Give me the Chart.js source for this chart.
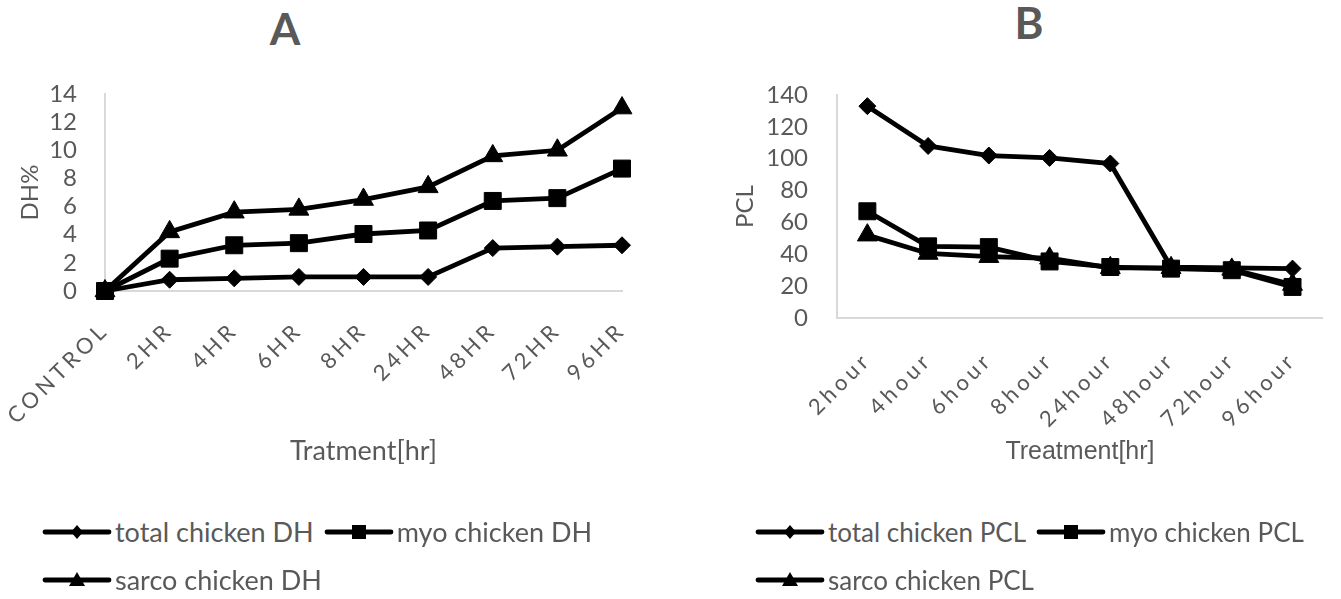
<!DOCTYPE html>
<html>
<head>
<meta charset="utf-8">
<script src="https://cdn.jsdelivr.net/npm/chart.js@4"></script>
<style>
  html, body { margin: 0; padding: 0; background: #fff; }
  body { width: 1341px; height: 599px; position: relative; overflow: hidden; font-family: Lato, "Open Sans", sans-serif; color: #595959; }
  .panel { position: absolute; top: 0; }
  .ttl { position: absolute; font: bold 44px Lato, sans-serif; color: #595959; line-height: 44px; transform: translate(-50%, -50%); }
  .legend { position: absolute; display: flex; flex-wrap: wrap; column-gap: 10px; row-gap: 18px; line-height: 30px; }
  .item { display: flex; align-items: center; height: 30px; white-space: nowrap; }
  .item canvas { margin-right: 3px; }
</style>
</head>
<body>
<div class="ttl" style="left:285px; top:28px;">A</div>
<div class="ttl" style="left:1029px; top:22px;">B</div>
<div class="panel" style="left:0px;"><canvas id="chartA" width="670" height="470"></canvas></div>
<div class="panel" style="left:700px;"><canvas id="chartB" width="641" height="470"></canvas></div>
<div class="legend" id="legendA" style="left:42px; top:517px; width:600px; font-size:27px;"></div>
<div class="legend" id="legendB" style="left:755px; top:517px; width:580px; font-size:26px;"></div>
<script>
// Degree of hydrolysis by treatment time
const categoriesDH = ['CONTROL', '2HR', '4HR', '6HR', '8HR', '24HR', '48HR', '72HR', '96HR'];
const totalDH = [0, 0.8, 0.9, 1.0, 1.0, 1.0, 3.05, 3.15, 3.25];
const myoDH   = [0, 2.3, 3.25, 3.4, 4.05, 4.3, 6.4, 6.6, 8.7];
const sarcoDH = [0, 4.2, 5.6, 5.8, 6.5, 7.4, 9.6, 10.0, 13.0];
const namesDH = ['total chicken DH', 'myo chicken DH', 'sarco chicken DH'];
const ticksDH = { max: 14, step: 2 };

// Peptide chain length by treatment time
const categoriesPCL = ['2hour', '4hour', '6hour', '8hour', '24hour', '48hour', '72hour', '96hour'];
const totalPCL = [133, 108, 102, 100.5, 97, 32, 31.5, 31];
const myoPCL   = [67, 45, 44.5, 35.5, 32, 31, 30, 19.5];
const sarcoPCL = [52, 40.5, 38.5, 37.5, 31.5, 31.5, 30.5, 21];
const namesPCL = ['total chicken PCL', 'myo chicken PCL', 'sarco chicken PCL'];
const ticksPCL = { max: 140, step: 20 };

const FONT = 'Lato, "Open Sans", sans-serif';
const GREY = '#595959';
const AXIS = '#d9d9d9';

// marker style per series: total = diamond, myo = square, sarco = triangle
const markers = [
  { style: 'rectRot', radius: 8.5, order: 1 },
  { style: 'rect', radius: 12, order: 0 },
  { style: 'triangle', radius: 11.5, order: 2 }
];

function series(label, data, m) {
  return {
    label, data,
    borderColor: '#000', backgroundColor: '#000', borderWidth: 4.8,
    pointStyle: m.style, pointRadius: m.radius, pointBorderWidth: 1,
    pointBackgroundColor: '#000', pointBorderColor: '#000',
    tension: 0, clip: false, order: m.order
  };
}

// spaced-out lettering for the category labels
const spacedCategoryLabels = {
  id: 'spacedCategoryLabels',
  beforeDraw(chart) {
    const s = chart.scales.x;
    if (s._spaced) return;
    const draw = s.drawLabels;
    s.drawLabels = function (area) {
      const ctx = this.ctx;
      ctx.save();
      ctx.letterSpacing = '4px';
      draw.call(this, area);
      ctx.restore();
    };
    s._spaced = true;
  }
};

function build(canvasId, cfg) {
  return new Chart(document.getElementById(canvasId), {
    type: 'line',
    data: {
      labels: cfg.labels,
      datasets: cfg.values.map((v, i) => series(cfg.names[i], v, markers[i]))
    },
    plugins: [spacedCategoryLabels],
    options: {
      responsive: false, animation: false, devicePixelRatio: 1, events: [],
      layout: { padding: cfg.padding },
      plugins: { legend: { display: false }, tooltip: { enabled: false }, title: { display: false } },
      scales: {
        x: {
          offset: cfg.offset,
          grid: { display: false, drawTicks: false },
          border: { display: true, color: AXIS, width: 2 },
          ticks: { color: GREY, font: { family: FONT, size: 22 }, minRotation: 45, maxRotation: 45, padding: cfg.xTickPad, autoSkip: false },
          title: { display: true, text: cfg.xTitle, color: GREY, font: cfg.xTitleFont, padding: { top: 0, bottom: 3 } },
          afterFit: s => { s.height = cfg.xHeight; }
        },
        y: {
          min: 0, max: cfg.ticks.max,
          grid: { display: false, drawTicks: false },
          border: { display: true, color: AXIS, width: 2 },
          ticks: { stepSize: cfg.ticks.step, autoSkip: false, color: GREY, font: { family: FONT, size: 24 }, padding: cfg.yTickPad },
          title: { display: true, text: cfg.yTitle, color: GREY, font: { family: FONT, size: 24 }, padding: { top: cfg.yTitlePad, bottom: 0 } },
          afterFit: s => { s.width = cfg.yWidth; }
        }
      }
    }
  });
}

function legendIcon(style) {
  const c = document.createElement('canvas');
  c.width = 70; c.height = 24;
  const g = c.getContext('2d');
  g.strokeStyle = '#000'; g.fillStyle = '#000';
  g.lineWidth = 4.8; g.lineCap = 'round';
  g.beginPath(); g.moveTo(3, 12); g.lineTo(67, 12); g.stroke();
  const cx = 35, cy = 12;
  g.beginPath();
  if (style === 'rectRot') {
    g.moveTo(cx, cy - 7); g.lineTo(cx + 6, cy); g.lineTo(cx, cy + 7); g.lineTo(cx - 6, cy);
  } else if (style === 'rect') {
    g.rect(cx - 7, cy - 7, 14, 14);
  } else {
    g.moveTo(cx, cy - 8); g.lineTo(cx + 8, cy + 6); g.lineTo(cx - 8, cy + 6);
  }
  g.closePath(); g.fill();
  return c;
}

function buildLegend(chart, boxId) {
  const box = document.getElementById(boxId);
  chart.data.datasets.forEach(ds => {
    const item = document.createElement('div');
    item.className = 'item';
    item.appendChild(legendIcon(ds.pointStyle));
    const span = document.createElement('span');
    span.textContent = ds.label;
    item.appendChild(span);
    box.appendChild(item);
  });
}

const chartA = build('chartA', {
  labels: categoriesDH, values: [totalDH, myoDH, sarcoDH], names: namesDH, ticks: ticksDH,
  offset: false, padding: { top: 94, right: 48, bottom: 0, left: 0 },
  yWidth: 105, yTickPad: 28, yTitle: 'DH%', yTitlePad: 16,
  xHeight: 179, xTickPad: 26, xTitle: 'Tratment[hr]', xTitleFont: { family: FONT, size: 27 }
});

const chartB = build('chartB', {
  labels: categoriesPCL, values: [totalPCL, myoPCL, sarcoPCL], names: namesPCL, ticks: ticksPCL,
  offset: true, padding: { top: 95, right: 4, bottom: 0, left: 0 },
  yWidth: 137, yTickPad: 29, yTitle: 'PCL', yTitlePad: 31,
  xHeight: 152, xTickPad: 29, xTitle: 'Treatment[hr]', xTitleFont: { family: '"Liberation Sans", Arial, sans-serif', size: 25 }
});

buildLegend(chartA, 'legendA');
buildLegend(chartB, 'legendB');
</script>
</body>
</html>
